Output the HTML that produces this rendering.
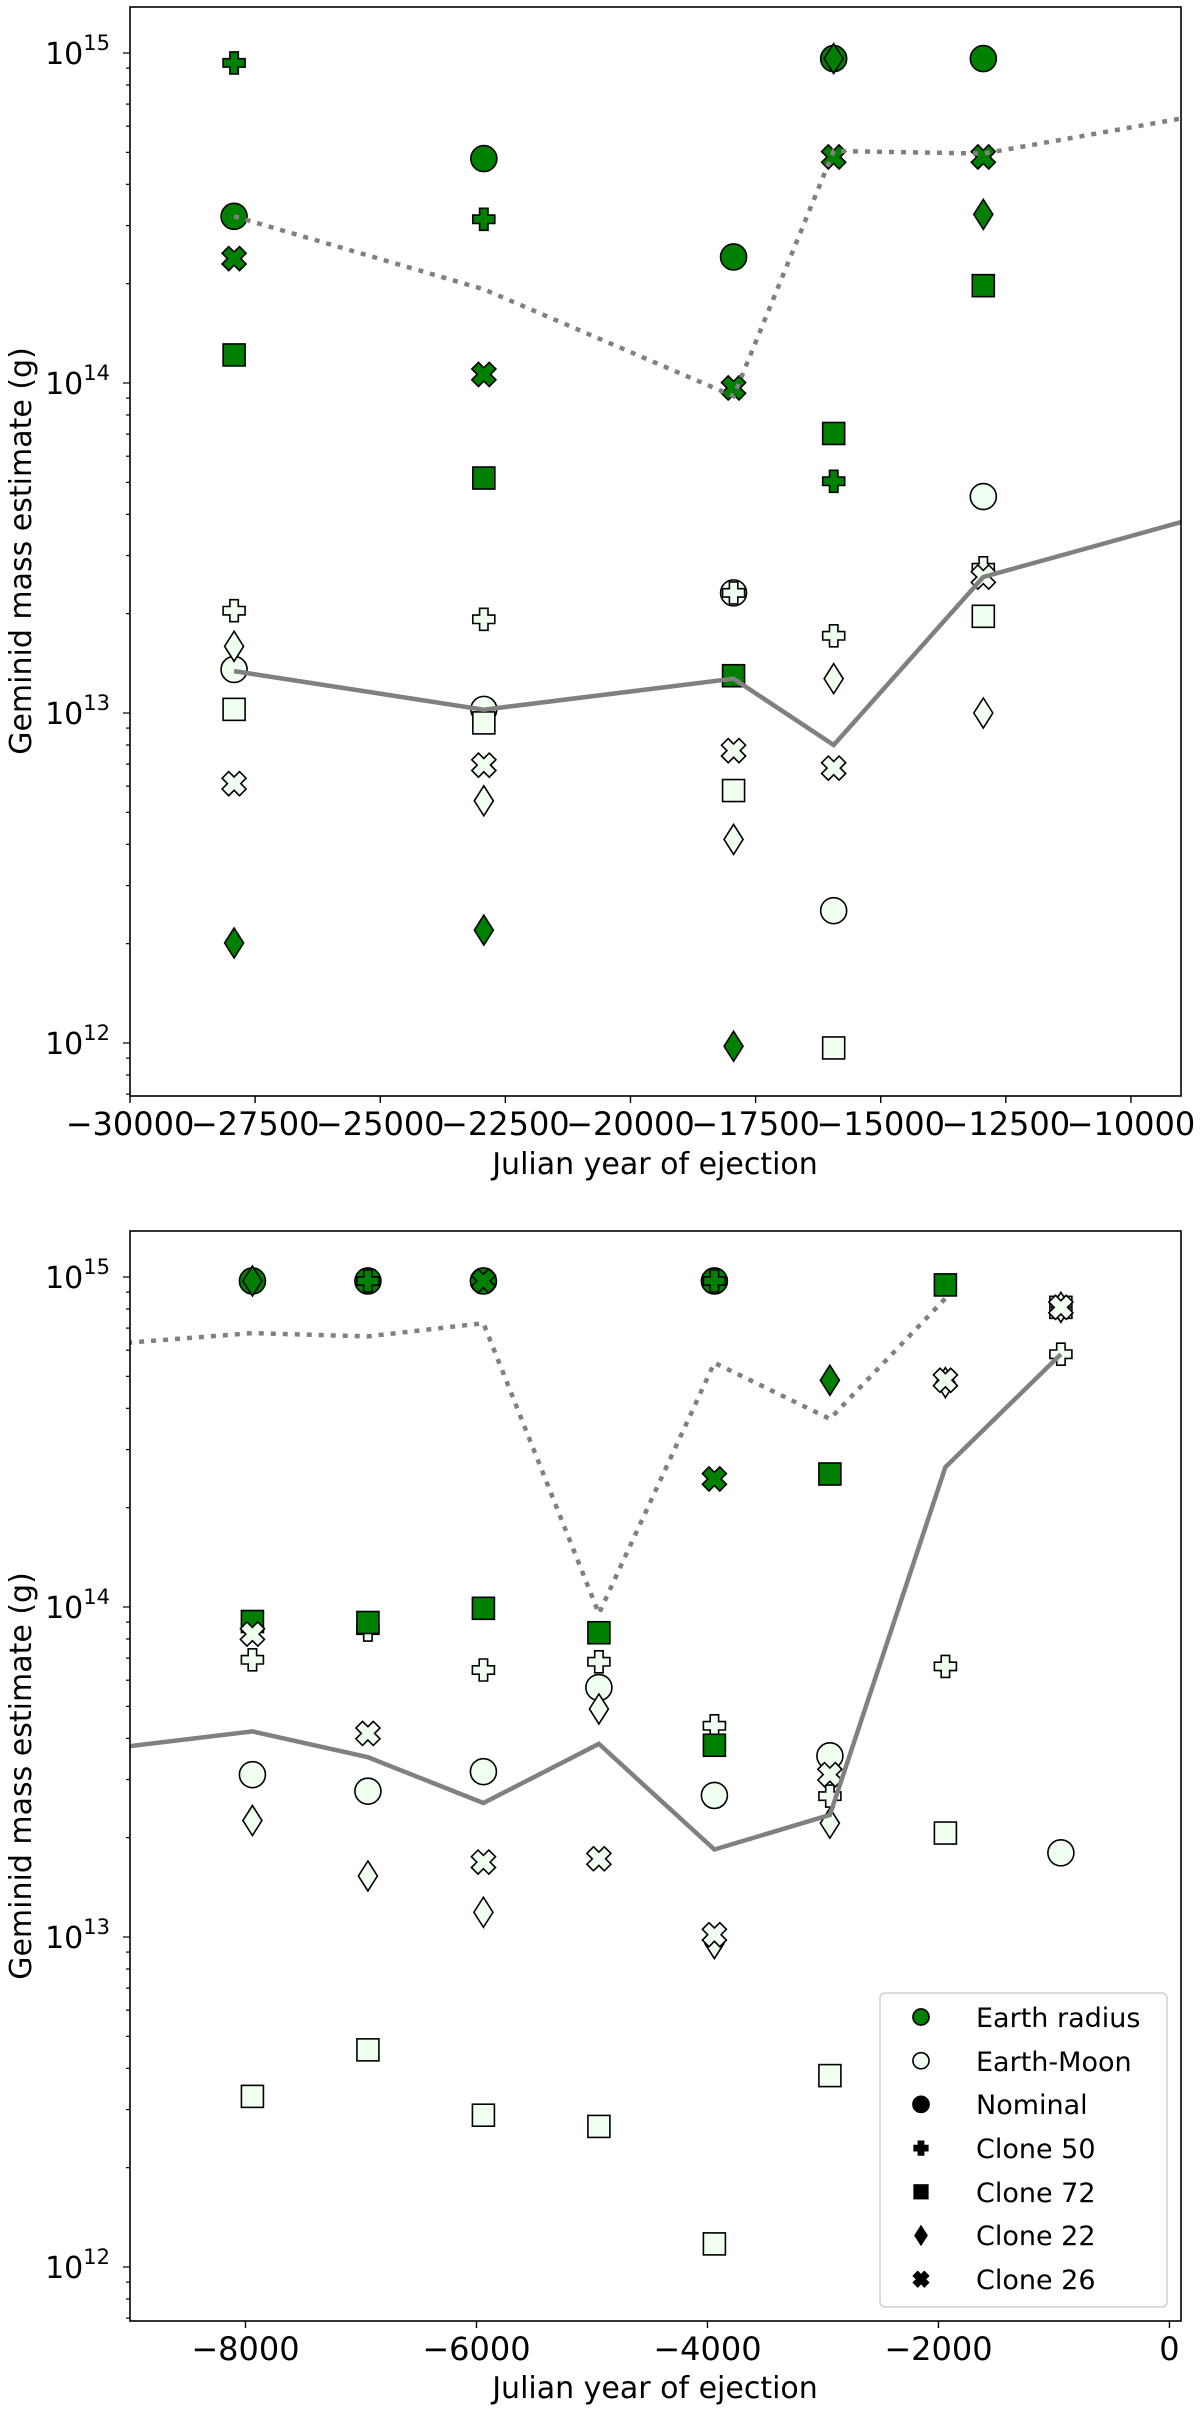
<!DOCTYPE html>
<html>
<head>
<meta charset="utf-8">
<style>
html,body{margin:0;padding:0;background:#fff;}
svg{display:block;font-family:"DejaVu Sans","Liberation Sans",sans-serif;}
</style>
</head>
<body>
<svg id="chart" width="1200" height="2410" viewBox="0 0 1200 2410" xmlns="http://www.w3.org/2000/svg">
  <defs>
    <clipPath id="clipTop"><rect x="130" y="7" width="1051" height="1089"/></clipPath>
    <clipPath id="clipBot"><rect x="130" y="1231" width="1051" height="1090"/></clipPath>
  </defs>
  <g id="topPanel"></g>
  <g id="botPanel"></g>
  <text x="655" y="1174" font-size="30" text-anchor="middle">Julian year of ejection</text>
  <text x="655" y="2398" font-size="30" text-anchor="middle">Julian year of ejection</text>
  <text transform="translate(31,551) rotate(-90)" font-size="30" text-anchor="middle">Geminid mass estimate (g)</text>
  <text transform="translate(31,1776) rotate(-90)" font-size="30" text-anchor="middle">Geminid mass estimate (g)</text>
  <g>
    <rect x="880" y="1993" width="287" height="314" rx="5" fill="#fff" stroke="#d0d0d0" stroke-width="1.5"/>
    <g id="legendMarks"></g>
    <text x="976" y="2027" font-size="27">Earth radius</text>
    <text x="976" y="2071" font-size="27">Earth-Moon</text>
    <text x="976" y="2114" font-size="27">Nominal</text>
    <text x="976" y="2158" font-size="27">Clone 50</text>
    <text x="976" y="2202" font-size="27">Clone 72</text>
    <text x="976" y="2245" font-size="27">Clone 22</text>
    <text x="976" y="2289" font-size="27">Clone 26</text>
  </g>
</svg>
<script>
// ---- data (log10 of mass in g) ----
const years = [-27920,-22930,-17940,-15940,-12950,-7940,-6940,-5940,-4940,-3940,-2940,-1940,-940];
const erNominal = [14.505,14.68,14.382,14.983,14.983,14.988,14.988,14.988,null,14.988,null,null,null];
const erClone50 = [14.97,14.496,null,13.702,null,null,14.988,null,null,14.988,null,null,null];
const erClone72 = [14.085,13.712,13.113,13.847,14.295,13.956,13.953,13.996,13.922,13.581,14.403,14.976,null];
const erClone22 = [12.303,12.342,11.99,14.983,14.511,14.988,null,null,null,null,14.687,null,null];
const erClone26 = [14.377,14.026,13.985,14.685,14.685,null,null,14.988,null,14.388,null,null,null];
const emNominal = [13.132,13.011,13.364,12.401,13.656,13.492,13.442,13.501,13.756,13.429,13.549,null,13.255];
const emClone50 = [13.31,13.284,13.364,13.234,13.44,13.84,13.93,13.809,13.834,13.64,13.427,13.82,14.766];
const emClone72 = [13.011,12.97,12.765,11.985,13.293,12.517,12.658,12.46,12.426,12.07,12.58,13.315,14.908];
const emClone22 = [13.202,12.734,12.617,13.104,13.0,13.353,13.185,13.075,13.691,12.98,13.345,14.68,14.908];
const emClone26 = [12.786,12.842,12.886,12.833,13.412,13.918,13.617,13.227,13.237,13.007,13.492,14.687,14.908];
const dottedYears = [-27920,-22930,-17940,-15940,-12950,-7940,-6940,-5940,-4940,-3940,-2940,-1940];
const dottedValues = [14.505,14.284,13.96,14.703,14.695,14.83,14.82,14.86,13.98,14.74,14.57,14.935];
const solidYears = [-27920,-22930,-17940,-15940,-12950,-7940,-6940,-5940,-4940,-3940,-2940,-1940,-940];
const solidValues = [13.127,13.01,13.104,12.903,13.412,13.623,13.545,13.406,13.585,13.265,13.37,14.424,14.766];
const topXTicks = [-30000,-27500,-25000,-22500,-20000,-17500,-15000,-12500,-10000];
const botXTicks = [-8000,-6000,-4000,-2000,0];
const yDecades = [15,14,13,12];

const NS = "http://www.w3.org/2000/svg";
function mk(tag, attrs, parent){const e=document.createElementNS(NS,tag);for(const k in attrs)e.setAttribute(k,attrs[k]);if(parent)parent.appendChild(e);return e;}

const panels = [
  {g:document.getElementById('topPanel'), clip:'clipTop', x0:130, x1:1181, y0:7, y1:1096, dmin:-30000, dmax:-9000, y15:53, ticks:topXTicks, name:'top'},
  {g:document.getElementById('botPanel'), clip:'clipBot', x0:130, x1:1181, y0:1231, y1:2321, dmin:-9000, dmax:100, y15:1277, ticks:botXTicks, name:'bottom'}
];
const DEC = 330;
function xScale(p,v){return p.x0+(v-p.dmin)*(p.x1-p.x0)/(p.dmax-p.dmin);}
function yScale(p,l){return p.y15+(15-l)*DEC;}
function fmt(v){return v<0?'\u2212'+Math.abs(v):String(v);}

function marker(parent,type,cx,cy,fill,scale){
  const s=scale||1; let e;
  const st={fill:fill,stroke:'#000','stroke-width':1.6};
  if(type==='circle'){e=mk('circle',Object.assign({cx:cx,cy:cy,r:13*s},st),parent);}
  else if(type==='square'){const h=11*s;e=mk('rect',Object.assign({x:cx-h,y:cy-h,width:2*h,height:2*h},st),parent);}
  else if(type==='diamond'){const w=9.5*s,h=15*s;e=mk('polygon',Object.assign({points:`${cx},${cy-h} ${cx+w},${cy} ${cx},${cy+h} ${cx-w},${cy}`},st),parent);}
  else if(type==='plus'||type==='x'){
    const a=11*s,b=4.2*s;
    const pts=[[-b,-a],[b,-a],[b,-b],[a,-b],[a,b],[b,b],[b,a],[-b,a],[-b,b],[-a,b],[-a,-b],[-b,-b]];
    const rot=type==='x'?Math.PI/4:0;const k=type==='x'?1.12:1;
    const str=pts.map(([px,py])=>{const rx=(px*Math.cos(rot)-py*Math.sin(rot))*k,ry=(px*Math.sin(rot)+py*Math.cos(rot))*k;return (cx+rx).toFixed(1)+','+(cy+ry).toFixed(1);}).join(' ');
    e=mk('polygon',Object.assign({points:str},st),parent);
  }
  return e;
}

const series = [
  {vals:erNominal,type:'circle',fill:'#008000',name:'earth-radius-nominal'},
  {vals:emNominal,type:'circle',fill:'#f0fff0',name:'earth-moon-nominal'},
  {vals:erClone50,type:'plus',fill:'#008000',name:'earth-radius-clone-50'},
  {vals:emClone50,type:'plus',fill:'#f0fff0',name:'earth-moon-clone-50'},
  {vals:erClone72,type:'square',fill:'#008000',name:'earth-radius-clone-72'},
  {vals:emClone72,type:'square',fill:'#f0fff0',name:'earth-moon-clone-72'},
  {vals:erClone22,type:'diamond',fill:'#008000',name:'earth-radius-clone-22'},
  {vals:emClone22,type:'diamond',fill:'#f0fff0',name:'earth-moon-clone-22'},
  {vals:erClone26,type:'x',fill:'#008000',name:'earth-radius-clone-26'},
  {vals:emClone26,type:'x',fill:'#f0fff0',name:'earth-moon-clone-26'}
];

panels.forEach(p=>{
  const g=p.g;
  const plot=mk('g',{'clip-path':`url(#${p.clip})`},g);
  
  
  series.forEach(s=>{
    s.vals.forEach((v,i)=>{
      if(v===null)return;
      const yr=years[i]; if(yr<p.dmin-2000||yr>p.dmax+2000)return;
      const m=marker(plot,s.type,xScale(p,yr),yScale(p,v),s.fill);
      
      
    });
  });
  const dpts=dottedYears.map((y,i)=>xScale(p,y).toFixed(1)+','+yScale(p,dottedValues[i]).toFixed(1)).join(' ');
  const dl=mk('polyline',{points:dpts,fill:'none',stroke:'#808080','stroke-width':4.5,'stroke-dasharray':'5,7'},plot);
  
  
  const spts=solidYears.map((y,i)=>xScale(p,y).toFixed(1)+','+yScale(p,solidValues[i]).toFixed(1)).join(' ');
  const sl=mk('polyline',{points:spts,fill:'none',stroke:'#808080','stroke-width':4.5},plot);
  
  
  const fr=mk('rect',{x:p.x0,y:p.y0,width:p.x1-p.x0,height:p.y1-p.y0,fill:'none',stroke:'#000','stroke-width':1.6},g);
  
  
  p.ticks.forEach(t=>{
    const x=xScale(p,t);
    mk('line',{x1:x,y1:p.y1,x2:x,y2:p.y1+7,stroke:'#000','stroke-width':1.4},g);
    const tl=mk('text',{x:x,y:p.y1+39,'font-size':32,'text-anchor':'middle'},g);
    tl.textContent=fmt(t);
    
    
  });
  for(let d=16;d>=11;d--){
    for(let m=1;m<=9;m++){
      const lv=(d-1)+Math.log10(m);
      const y=yScale(p,lv);
      if(y<p.y0-0.5||y>p.y1+0.5)continue;
      mk('line',{x1:p.x0,y1:y,x2:p.x0-(m===1?7:4),y2:y,stroke:'#000','stroke-width':1.2},g);
    }
  }
  yDecades.forEach(d=>{
    const y=yScale(p,d);
    const t=mk('text',{x:110,y:y+11,'font-size':30,'text-anchor':'end'},g);
    
    
    const b=mk('tspan',{},t); b.textContent='10';
    const sp=mk('tspan',{dy:-14,'font-size':21},t); sp.textContent=String(d);
  });
});

const lg=document.getElementById('legendMarks');
const legendTypes=[['circle','#008000'],['circle','#f0fff0'],['circle','#000'],['plus','#000'],['square','#000'],['diamond','#000'],['x','#000']];
legendTypes.forEach((lt,i)=>{
  const m=marker(lg,lt[0],921,2017+i*43.7,lt[1],0.62);
  
  
});
</script>
</body>
</html>
